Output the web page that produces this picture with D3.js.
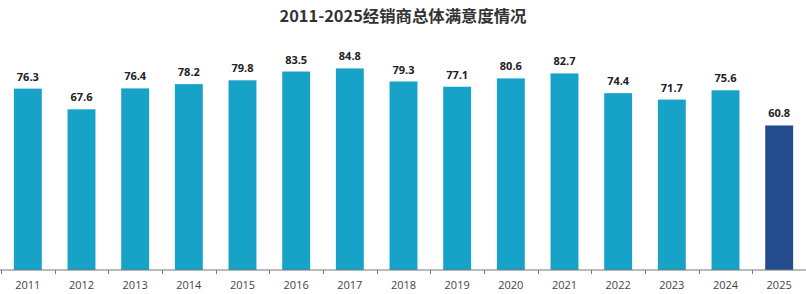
<!DOCTYPE html>
<html>
<head>
<meta charset="utf-8">
<script src="https://cdn.jsdelivr.net/npm/d3@7"></script>
<style>
  body { margin: 0; background: #fff; }
</style>
</head>
<body>
<div id="chart"></div>
<script>
// data
const years = ["2011", "2012", "2013", "2014", "2015", "2016", "2017", "2018", "2019", "2020", "2021", "2022", "2023", "2024", "2025"];
const scores = [76.3, 67.6, 76.4, 78.2, 79.8, 83.5, 84.8, 79.3, 77.1, 80.6, 82.7, 74.4, 71.7, 75.6, 60.8];
const titleText = "2011-2025经销商总体满意度情况";

const width = 806;
const height = 294;
const baseY = 270;

const svg = d3.select("#chart")
  .append("svg")
  .attr("width", width)
  .attr("height", height);

const x = d3.scaleBand()
  .domain(years)
  .range([1, 806])
  .paddingInner(0.48)
  .paddingOuter(0.24);

const y = d3.scaleLinear()
  .domain([0, 100])
  .range([baseY, 32.3]);

// title
svg.append("text")
  .attr("x", 403)
  .attr("y", 22)
  .attr("text-anchor", "middle")
  .attr("textLength", 247)
  .attr("lengthAdjust", "spacingAndGlyphs")
  .style("font-family", "'Noto Sans CJK SC', 'Open Sans', sans-serif")
  .style("font-weight", "bold")
  .style("font-size", "16px")
  .style("fill", "#333")
  .text(titleText);

// bars, last year highlighted
svg.selectAll("rect.bar")
  .data(years)
  .enter()
  .append("rect")
  .attr("class", "bar")
  .attr("x", d => x(d))
  .attr("width", x.bandwidth())
  .attr("y", (d, i) => y(scores[i]))
  .attr("height", (d, i) => baseY - y(scores[i]))
  .attr("fill", d => d === "2025" ? "#234b8e" : "#17a2c8");

// value labels
svg.selectAll("text.val")
  .data(years)
  .enter()
  .append("text")
  .attr("class", "val")
  .attr("x", d => x(d) + x.bandwidth() / 2)
  .attr("y", (d, i) => y(scores[i]) - 8)
  .attr("text-anchor", "middle")
  .style("font-family", "'Open Sans', sans-serif")
  .style("font-weight", "bold")
  .style("font-size", "11px")
  .style("fill", "#222")
  .text((d, i) => scores[i].toFixed(1));

// x axis, ticks sit between bands
const axis = svg.append("g")
  .attr("transform", `translate(0, ${baseY})`);

axis.append("line")
  .attr("x1", 0)
  .attr("x2", width)
  .attr("stroke", "#777")
  .attr("stroke-width", 1);

const step = x.step();

axis.selectAll("line.tick")
  .data(d3.range(years.length + 1))
  .enter()
  .append("line")
  .attr("class", "tick")
  .attr("x1", i => Math.round(1 + i * step) + 0.5)
  .attr("x2", i => Math.round(1 + i * step) + 0.5)
  .attr("y1", 0)
  .attr("y2", 4)
  .attr("stroke", "#777");

axis.selectAll("text.yr")
  .data(years)
  .enter()
  .append("text")
  .attr("class", "yr")
  .attr("x", d => x(d) + x.bandwidth() / 2)
  .attr("y", 19)
  .attr("text-anchor", "middle")
  .style("font-family", "'Open Sans', sans-serif")
  .style("font-size", "11px")
  .style("fill", "#444")
  .text(d => d);
</script>
</body>
</html>
